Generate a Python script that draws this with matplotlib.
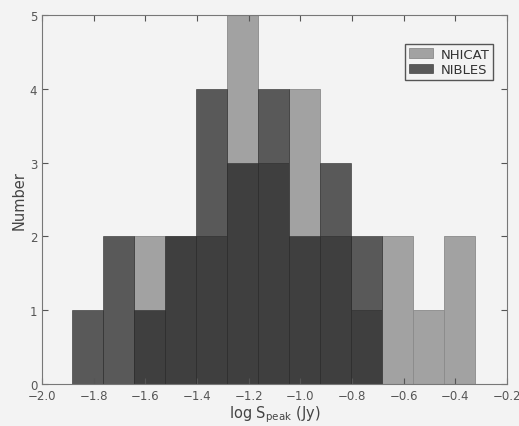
import numpy as np
import matplotlib
matplotlib.use('Agg')
import matplotlib.pyplot as plt

# bin edges in log S_peak (Jy)
bin_edges = [-1.885, -1.765, -1.645, -1.525, -1.405, -1.285, -1.165,
             -1.045, -0.925, -0.805, -0.685, -0.565, -0.445, -0.325]
nhicat_counts = [0, 0, 2, 2, 2, 5, 3, 4, 2, 1, 2, 1, 2]
nibles_counts = [1, 2, 1, 2, 4, 3, 4, 2, 3, 2, 0, 0, 0]
x_ticks = [-2.0, -1.8, -1.6, -1.4, -1.2, -1.0, -0.8, -0.6, -0.4, -0.2]
y_ticks = [0, 1, 2, 3, 4, 5]

edges = np.array(bin_edges)
centres = 0.5 * (edges[:-1] + edges[1:])

fig = plt.figure(figsize=(5.19, 4.27), dpi=100, facecolor='#f3f3f3')
ax = fig.add_axes([0.081, 0.098, 0.896, 0.865], facecolor='#f3f3f3')

ax.hist(centres, bins=edges, weights=nhicat_counts, color='#a2a2a2',
        edgecolor='#8a8a8a', linewidth=0.6, label='NHICAT')
ax.hist(centres, bins=edges, weights=nibles_counts, color='#101010',
        alpha=0.68, edgecolor='#303030', linewidth=0.6, label='NIBLES')

ax.set_xlim(-2.0, -0.2)
ax.set_ylim(0, 5)
ax.set_xticks(x_ticks)
ax.set_yticks(y_ticks)
ax.tick_params(direction='in', top=True, right=True, labelsize=8.5,
               colors='#555555', length=4)
for s in ax.spines.values():
    s.set_color('#777777')

ax.set_xlabel(r'log S$_{\rm peak}$ (Jy)', fontsize=10.5, color='#444444', labelpad=1)
ax.set_ylabel('Number', fontsize=10.5, color='#444444', labelpad=2)

leg = ax.legend(loc='upper right', bbox_to_anchor=(0.985, 0.94), fontsize=9.5,
                fancybox=False, framealpha=1, handlelength=1.8,
                borderpad=0.3, labelspacing=0.2, handletextpad=0.6)
leg.get_frame().set_edgecolor('#555555')
leg.get_frame().set_facecolor('#f3f3f3')
for t in leg.get_texts():
    t.set_color('#333333')

fig.savefig('out.png', dpi=100, facecolor=fig.get_facecolor())
